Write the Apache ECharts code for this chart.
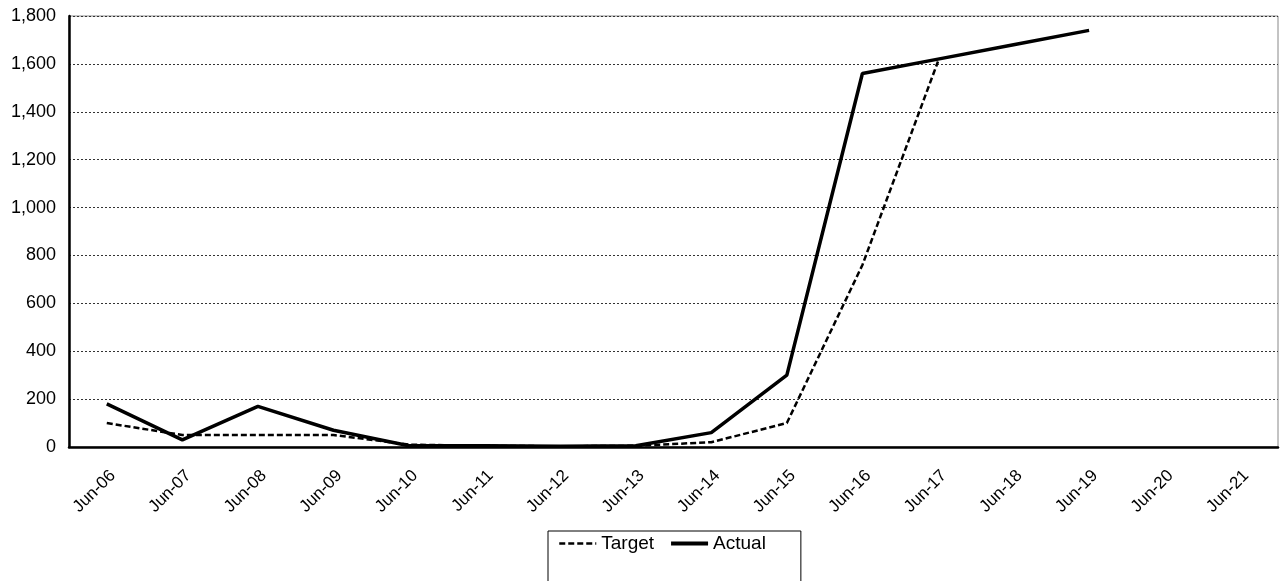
<!DOCTYPE html>
<html>
<head>
<meta charset="utf-8">
<script src="https://cdn.jsdelivr.net/npm/echarts@6/dist/echarts.min.js"></script>
<style>html,body{margin:0;padding:0;background:#fff}#c{width:1280px;height:581px}</style>
</head>
<body>
<div id="c"></div>
<script>
var categories = ['Jun-06','Jun-07','Jun-08','Jun-09','Jun-10','Jun-11','Jun-12','Jun-13','Jun-14','Jun-15','Jun-16','Jun-17','Jun-18','Jun-19','Jun-20','Jun-21'];
var targetValues = [100, 50, 50, 50, 10, 5, 3, 5, 20, 100, 760, 1610, null, null, null, null];
var actualValues = [180, 30, 170, 70, 5, 5, 3, 5, 60, 300, 1560, 1620, 1680, 1740, null, null];
var yTicks = [0, 200, 400, 600, 800, 1000, 1200, 1400, 1600, 1800];

var chart = echarts.init(document.getElementById('c'));
var font = 'Liberation Sans, Arial, sans-serif';
chart.setOption({
  animation: false,
  grid: {left: 69, right: 2, top: 16, bottom: 134, show: true, borderColor: '#888', borderWidth: 1},
  legend: {
    data: [
      {name: 'Target', lineStyle: {color: '#000', width: 2.5, type: [6, 3]}},
      {name: 'Actual', lineStyle: {color: '#000', width: 4, type: 'solid'}}
    ],
    left: 548, top: 531,
    padding: [3, 35, 30, 10],
    borderColor: '#000', borderWidth: 1,
    itemWidth: 37, itemHeight: 18, itemGap: 15,
    itemStyle: {opacity: 0},
    textStyle: {fontFamily: font, fontSize: 19, color: '#000'}
  },
  xAxis: {
    type: 'category',
    data: categories,
    boundaryGap: true,
    axisLine: {lineStyle: {color: '#000', width: 2.5}},
    axisTick: {show: false},
    axisLabel: {rotate: 45, fontFamily: font, fontSize: 17, color: '#000', interval: 0, margin: 20, verticalAlign: 'top'}
  },
  yAxis: {
    type: 'value',
    min: yTicks[0], max: yTicks[yTicks.length - 1], interval: 200,
    axisLine: {show: true, lineStyle: {color: '#000', width: 2.5}},
    axisTick: {show: false},
    axisLabel: {fontFamily: font, fontSize: 18, color: '#000', margin: 13,
      formatter: function (v) { return v.toLocaleString('en-US'); }},
    splitLine: {lineStyle: {color: '#333', width: 1, type: [2, 2]}}
  },
  series: [
    {name: 'Target', type: 'line', data: targetValues, symbol: 'none', connectNulls: false,
      lineStyle: {color: '#000', width: 2.5, type: [6, 3]}, itemStyle: {color: '#000'}},
    {name: 'Actual', type: 'line', data: actualValues, symbol: 'none', connectNulls: false,
      lineStyle: {color: '#000', width: 3.5}, itemStyle: {color: '#000'}}
  ]
});
</script>
</body>
</html>
